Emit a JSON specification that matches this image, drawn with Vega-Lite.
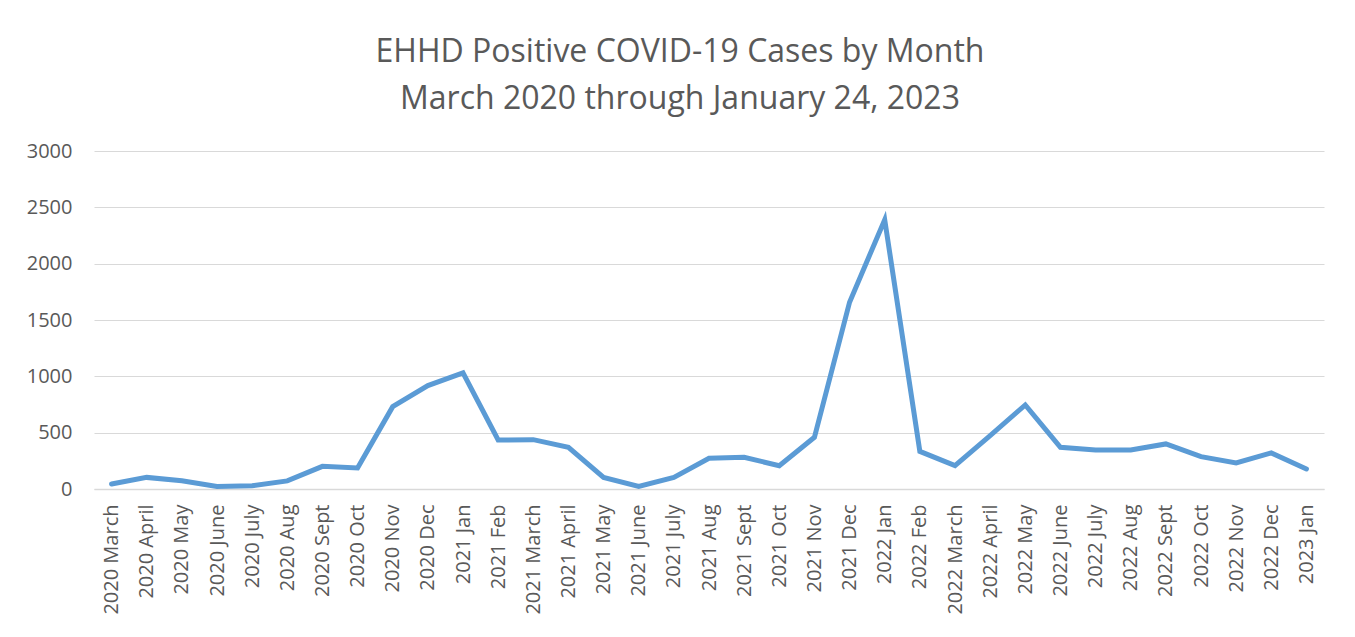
{
  "$schema": "https://vega.github.io/schema/vega-lite/v6.json",
  "width": 1230,
  "height": 338,
  "autosize": {"type": "none"},
  "padding": {"left": 94, "top": 151, "right": 31, "bottom": 148},
  "background": "white",
  "title": {
    "text": ["EHHD Positive COVID-19 Cases by Month", "March 2020 through January 24, 2023"],
    "font": "Open Sans",
    "fontSize": 32,
    "fontWeight": "normal",
    "color": "#595959",
    "lineHeight": 47,
    "anchor": "middle",
    "dx": -29,
    "offset": 25
  },
  "data": {
    "values": [
      {"month": "2020 March", "cases": 44},
      {"month": "2020 April", "cases": 103},
      {"month": "2020 May", "cases": 74},
      {"month": "2020 June", "cases": 23},
      {"month": "2020 July", "cases": 29},
      {"month": "2020 Aug", "cases": 72},
      {"month": "2020 Sept", "cases": 201},
      {"month": "2020 Oct", "cases": 186},
      {"month": "2020 Nov", "cases": 731},
      {"month": "2020 Dec", "cases": 918},
      {"month": "2021 Jan", "cases": 1030},
      {"month": "2021 Feb", "cases": 435},
      {"month": "2021 March", "cases": 438},
      {"month": "2021 April", "cases": 370},
      {"month": "2021 May", "cases": 103},
      {"month": "2021 June", "cases": 23},
      {"month": "2021 July", "cases": 103},
      {"month": "2021 Aug", "cases": 272},
      {"month": "2021 Sept", "cases": 281},
      {"month": "2021 Oct", "cases": 207},
      {"month": "2021 Nov", "cases": 459},
      {"month": "2021 Dec", "cases": 1658},
      {"month": "2022 Jan", "cases": 2390},
      {"month": "2022 Feb", "cases": 334},
      {"month": "2022 March", "cases": 207},
      {"month": "2022 April", "cases": 474},
      {"month": "2022 May", "cases": 746},
      {"month": "2022 June", "cases": 370},
      {"month": "2022 July", "cases": 346},
      {"month": "2022 Aug", "cases": 346},
      {"month": "2022 Sept", "cases": 400},
      {"month": "2022 Oct", "cases": 287},
      {"month": "2022 Nov", "cases": 231},
      {"month": "2022 Dec", "cases": 320},
      {"month": "2023 Jan", "cases": 178}
    ]
  },
  "mark": {"type": "line", "color": "#5B9BD5", "strokeWidth": 5, "strokeCap": "round"},
  "encoding": {
    "x": {
      "field": "month",
      "type": "nominal",
      "sort": null,
      "scale": {"type": "point", "padding": 0.5},
      "axis": {
        "title": null,
        "labelAngle": -90,
        "labelFont": "Open Sans",
        "labelFontSize": 20,
        "labelColor": "#595959",
        "labelPadding": 15,
        "ticks": false,
        "tickSize": 0,
        "domainColor": "#d9d9d9",
        "domainWidth": 1.5,
        "grid": false
      }
    },
    "y": {
      "field": "cases",
      "type": "quantitative",
      "scale": {"domain": [0, 3000], "nice": false},
      "axis": {
        "title": null,
        "values": [0, 500, 1000, 1500, 2000, 2500, 3000],
        "format": "d",
        "labelFont": "Open Sans",
        "labelFontSize": 20,
        "labelColor": "#595959",
        "labelPadding": 22,
        "ticks": false,
        "tickSize": 0,
        "domain": false,
        "gridColor": "#d9d9d9",
        "gridWidth": 1.2
      }
    }
  },
  "config": {"view": {"stroke": null}}
}
